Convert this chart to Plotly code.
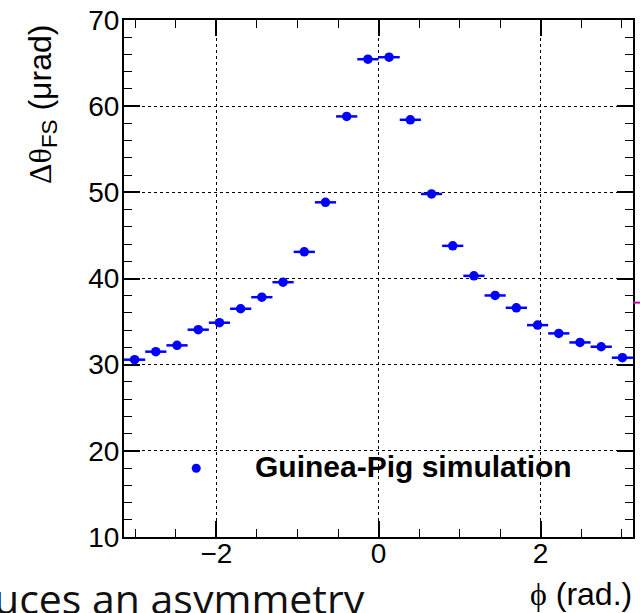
import plotly.graph_objects as go
import math

# bin centres of phi (rad.) and the simulated angle difference (micro-rad)
phi = [-3.0107, -2.7489, -2.4871, -2.2253, -1.9635, -1.7017, -1.4399, -1.1781,
       -0.9163, -0.6545, -0.3927, -0.1309, 0.1309, 0.3927, 0.6545, 0.9163,
       1.1781, 1.4399, 1.7017, 1.9635, 2.2253, 2.4871, 2.7489, 3.0107]
dtheta = [30.58, 31.51, 32.24, 34.06, 34.87, 36.49, 37.83, 39.57,
          43.09, 48.84, 58.81, 65.45, 65.68, 58.42, 49.81, 43.79,
          40.31, 38.03, 36.60, 34.59, 33.63, 32.58, 32.08, 30.81]
half_bin = [0.1309] * len(phi)

x_ticks = [-2, 0, 2]
y_ticks = [10, 20, 30, 40, 50, 60, 70]

W, H = 640, 613
L, R, T, B = 124, 5, 18, 76
pw, ph = W - L - R, H - T - B


def px(xp):
    return (xp - L) / pw


def py(yp):
    return (H - B - yp) / ph


fig = go.Figure()
fig.add_trace(go.Scatter(
    x=phi, y=dtheta, mode="markers",
    marker=dict(size=9.5, color="#0000ff", line=dict(width=0)),
    error_x=dict(type="data", array=half_bin, thickness=2.5, width=0, color="#0000ff"),
    showlegend=False,
))

axis_common = dict(
    ticks="inside", ticklen=16, tickwidth=1.5, tickcolor="black",
    mirror="allticks", showline=True, linewidth=2, linecolor="black",
    showgrid=True, gridcolor="black", griddash="dot", gridwidth=1,
    zeroline=False,
    tickfont=dict(family="Liberation Sans, Arial, sans-serif", size=28, color="black"),
)

fig.update_xaxes(range=[-math.pi, math.pi], tickvals=x_ticks,
                 minor=dict(ticks="inside", ticklen=8, dtick=0.5, tick0=0,
                            tickcolor="black", tickwidth=1, showgrid=False),
                 ticklabelstandoff=-10,
                 **axis_common)
fig.update_yaxes(range=[10, 70], tickvals=y_ticks,
                 minor=dict(ticks="inside", ticklen=8, dtick=2, tick0=0,
                            tickcolor="black", tickwidth=1, showgrid=False),
                 ticklabelstandoff=-3,
                 **axis_common)

shapes = [
    # white legend box hiding the grid
    dict(type="rect", xref="paper", yref="paper", x0=px(126), x1=px(605),
         y0=py(535), y1=py(418), fillcolor="white", line=dict(width=0), layer="between"),
    # legend marker
    dict(type="circle", xref="paper", yref="paper", xsizemode="pixel", ysizemode="pixel",
         xanchor=px(196.5), yanchor=py(468), x0=-4.5, x1=4.5, y0=-4.5, y1=4.5,
         fillcolor="#0000ff", line=dict(width=0)),
    # small magenta remnant at the right edge
    dict(type="line", xref="paper", yref="y", x0=1.0, x1=1.02, y0=37.2, y1=37.2,
         line=dict(color="#cc00aa", width=2)),
]

annotations = [
    dict(text="<b>Guinea-Pig simulation</b>", xref="paper", yref="paper",
         x=px(254), y=py(466), xanchor="left", yanchor="middle", showarrow=False,
         font=dict(family="Liberation Sans, Arial, sans-serif", size=30, color="black")),
    dict(text='<span style="font-family:Liberation Serif">Δθ</span><sub>FS</sub> (μrad)',
         xref="paper", yref="paper", x=px(42), y=py(103), xanchor="center", yanchor="middle",
         textangle=-90, showarrow=False,
         font=dict(family="Liberation Sans, Arial, sans-serif", size=32, color="black")),
    dict(text='<span style="font-family:Liberation Serif">ϕ</span> (rad.)',
         xref="paper", yref="paper", x=px(636), y=py(594), xanchor="right", yanchor="middle",
         showarrow=False,
         font=dict(family="Liberation Sans, Arial, sans-serif", size=32, color="black")),
    dict(text="uces an asymmetry", xref="paper", yref="paper",
         x=px(368), y=py(598), xanchor="right", yanchor="middle", showarrow=False,
         font=dict(family="Open Sans, Noto Sans, sans-serif", size=41, color="#111111")),
]

fig.update_layout(
    width=W, height=H,
    margin=dict(l=L, r=R, t=T, b=B),
    paper_bgcolor="white", plot_bgcolor="white",
    shapes=shapes, annotations=annotations,
    showlegend=False,
)

fig.write_html("out.html")
